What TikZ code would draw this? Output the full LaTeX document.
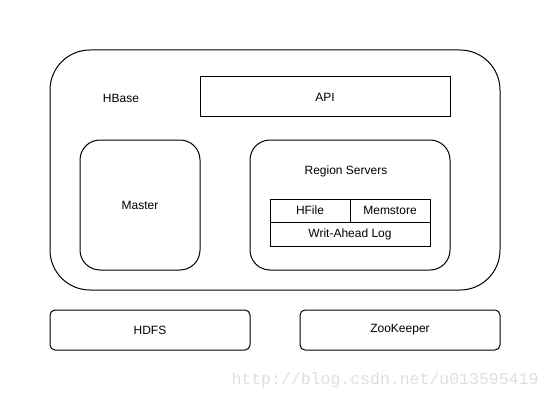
\documentclass[tikz,border=0pt]{standalone}
\usepackage{fontspec}
\setmainfont{Liberation Sans}
\newfontfamily\markfont{Liberation Mono}
\usetikzlibrary{positioning}
\tikzset{
  box/.style={draw=black, line width=1pt, inner sep=0pt, outer sep=0pt, align=center},
  rbox/.style={box, rounded corners=20pt},
  cell/.style={box, line width=0.8pt},
  lbl/.style={inner sep=0pt, font=\fontsize{12}{14}\selectfont}
}
\begin{document}
\begin{tikzpicture}[x=1pt, y=-1pt, font=\fontsize{12}{14}\selectfont]
        \useasboundingbox (0,0) rectangle (551,401);
        % HBase frame
        \node[rbox, rounded corners=40pt, minimum width=450pt, minimum height=240pt] (hbase) at (275,170) {};
        \node[lbl] (hbaselbl) at (121,98) {HBase};
        \node[box, minimum width=250pt, minimum height=40pt] (api) at (325,97) {API};
        % master and region servers
        \node[rbox, minimum width=120pt, minimum height=130pt] (master) at (140,205) {Master};
        \node[rbox, minimum width=200pt, minimum height=130pt] (region) at (350,205) {};
        \node[lbl] (regionlbl) at (346,171) {Region Servers};
        % table inside region servers
        \node[cell, minimum width=80pt, minimum height=23pt] (hfile) at (310,210.5) {HFile};
        \node[cell, minimum width=80pt, minimum height=23pt, right=0pt of hfile] (memstore) {Memstore};
        \node[cell, minimum width=160pt, minimum height=24pt] (wal) at (350,234) {Writ-Ahead Log};
        % bottom
        \node[box, rounded corners=5pt, minimum width=200pt, minimum height=40pt] (hdfs) at (150,330) {HDFS};
        \node[box, rounded corners=5pt, minimum width=200pt, minimum height=40pt] (zk) at (400,330) {ZooKeeper};
        % watermark
        \node[lbl, text=gray!25, font=\markfont\fontsize{16.5}{18}\selectfont] (mark) at (385,380) {http://blog.csdn.net/u013595419};
      \end{tikzpicture}
\end{document}
